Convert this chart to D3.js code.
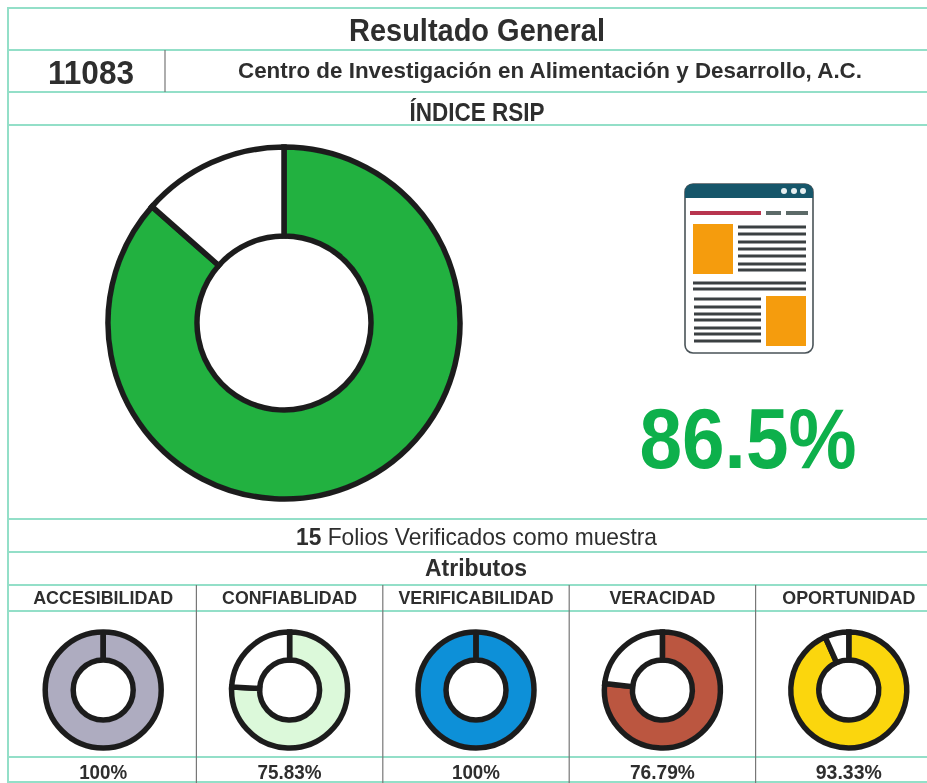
<!DOCTYPE html>
<html>
<head>
    <meta charset="utf-8">
    <title>Resultado General</title>
    <style type="text/css">
        html, body { margin: 0; padding: 0; background: #fff; }
        svg { display: block; }
        text { font-family: "Liberation Sans", Arial, sans-serif; fill: #2e2e2e; }
    </style>
</head>

<body>
    <svg id="chart"></svg>

    <script src="https://cdn.jsdelivr.net/npm/d3@7"></script>
    <script type="text/javascript">
        // 数据
        var atributos = ["ACCESIBILIDAD", "CONFIABLIDAD", "VERIFICABILIDAD", "VERACIDAD", "OPORTUNIDAD"];
        var atributoValues = [100, 75.83, 100, 76.79, 93.33];
        var atributoLabels = ["100%", "75.83%", "100%", "76.79%", "93.33%"];
        var atributoColors = ["#aeacc0", "#dcf9da", "#1090d8", "#bb5641", "#fbd608"];
        var indiceValue = 86.5;
        var folios = 15;

        var width = 927, height = 783;
        var lineColor = "#93dfc8", ink = "#1f1f1f";

        var svg = d3.select("#chart").attr("width", width).attr("height", height);
        var defs = svg.append("defs");
        // the reference is a soft scan
        defs.append("filter").attr("id", "soft").append("feGaussianBlur").attr("stdDeviation", 0.7);

        var page = svg.append("g").attr("filter", "url(#soft)");
        page.append("rect").attr("width", width).attr("height", height).attr("fill", "#fff");

        var x = d3.scaleBand().domain(atributos).range([10, 942]);
        var color = d3.scaleOrdinal().domain(atributos).range(atributoColors);
        var pie = d3.pie().sort(null);

        // 表格线
        var hLines = [8, 50, 92, 125, 519, 552, 585, 611, 757, 782];
        page.selectAll("line.h").data(hLines).join("line")
            .attr("class", "h")
            .attr("x1", 7).attr("x2", width)
            .attr("y1", d => d).attr("y2", d => d)
            .attr("stroke", lineColor).attr("stroke-width", 2);

        page.append("line").attr("x1", 8).attr("x2", 8).attr("y1", 8).attr("y2", height)
            .attr("stroke", lineColor).attr("stroke-width", 2);
        page.append("line").attr("x1", 165).attr("x2", 165).attr("y1", 50).attr("y2", 92)
            .attr("stroke", "#777").attr("stroke-width", 1.2);
        page.selectAll("line.col").data(atributos.slice(1)).join("line")
            .attr("class", "col")
            .attr("x1", d => x(d)).attr("x2", d => x(d))
            .attr("y1", 585).attr("y2", height)
            .attr("stroke", "#777").attr("stroke-width", 1.2);

        function label(str, cx, y, size, weight, w, fill) {
            var t = page.append("text")
                .attr("x", cx).attr("y", y)
                .attr("text-anchor", "middle")
                .attr("font-size", size)
                .attr("font-weight", weight)
                .attr("textLength", w)
                .attr("lengthAdjust", "spacingAndGlyphs")
                .text(str);
            if (fill) t.style("fill", fill);
            return t;
        }

        label("Resultado General", 477, 41, 32, "bold", 256);
        label("11083", 91, 84, 33, "bold", 86);
        label("Centro de Investigación en Alimentación y Desarrollo, A.C.", 550, 78, 22, "bold", 624);
        label("ÍNDICE RSIP", 477, 121, 25, "bold", 135);
        label("86.5%", 748, 468, 86, "bold", 217, "#0fb04b");
        label("Atributos", 476, 576, 23, "bold", 102);

        // "15" in bold, rest regular
        var foliosText = page.append("text").attr("x", 296).attr("y", 545).attr("font-size", 24);
        foliosText.append("tspan").attr("font-weight", "bold").text(folios);
        foliosText.append("tspan").text(" Folios Verificados como muestra");
        foliosText.attr("textLength", 361).attr("lengthAdjust", "spacingAndGlyphs");

        // 环形图
        function donut(g, value, fill, rOuter, rInner, sw) {
            var arc = d3.arc().innerRadius(rInner).outerRadius(rOuter);
            var slices = pie([value, 100 - value]);
            g.selectAll("path").data(slices).join("path")
                .attr("d", arc)
                .attr("fill", (d, i) => i === 0 ? fill : "#fff")
                .attr("stroke", ink)
                .attr("stroke-width", sw);
            // a full ring still shows its seam at twelve o'clock
            if (value >= 100) {
                g.append("line")
                    .attr("y1", -rInner).attr("y2", -rOuter)
                    .attr("stroke", ink).attr("stroke-width", sw);
            }
        }

        donut(page.append("g").attr("transform", "translate(284,323)"), indiceValue, "#20b13f", 176, 87, 5.5);

        var widths = [140, 135, 155, 106, 133];
        var pctWidths = [48, 64, 48, 65, 66];

        atributos.forEach(function(name, i) {
            var cx = x(name) + x.bandwidth() / 2;
            label(name, cx, 604, 18, "bold", widths[i]);
            donut(page.append("g").attr("transform", `translate(${cx},690)`),
                atributoValues[i], color(name), 58, 30, 5.5);
            label(atributoLabels[i], cx, 779, 21, "bold", pctWidths[i]);
        });

        // 文档图标
        var icon = page.append("g");
        icon.append("rect").attr("x", 685).attr("y", 184).attr("width", 128).attr("height", 169).attr("rx", 8)
            .attr("fill", "#fff").attr("stroke", "#4a5358").attr("stroke-width", 1.6);
        icon.append("path").attr("d", "M685 198V192a8 8 0 0 1 8-8H805a8 8 0 0 1 8 8V198Z").attr("fill", "#15566a");
        icon.selectAll("circle").data([784, 794, 803]).join("circle")
            .attr("cx", d => d).attr("cy", 191).attr("r", 3).attr("fill", "#e6eef0");
        icon.append("rect").attr("x", 690).attr("y", 211).attr("width", 71).attr("height", 4).attr("fill", "#b8364f");
        icon.selectAll("rect.g").data([[766, 15], [786, 22]]).join("rect")
            .attr("class", "g")
            .attr("x", d => d[0]).attr("y", 211).attr("width", d => d[1]).attr("height", 4).attr("fill", "#5c6a68");
        icon.selectAll("rect.o").data([[693, 224], [766, 296]]).join("rect")
            .attr("class", "o")
            .attr("x", d => d[0]).attr("y", d => d[1]).attr("width", 40).attr("height", 50).attr("fill", "#f59c0c");

        function rows(ys, x1, x2) {
            icon.append("g").selectAll("rect").data(ys).join("rect")
                .attr("x", x1).attr("y", d => d - 1.5).attr("width", x2 - x1).attr("height", 3).attr("fill", "#3b3f42");
        }
        rows([227, 234, 242, 249, 256, 264, 270], 738, 806);
        rows([283, 289], 693, 806);
        rows([299, 307, 314, 320, 328, 334, 341], 694, 761);
    </script>
</body>
</html>
